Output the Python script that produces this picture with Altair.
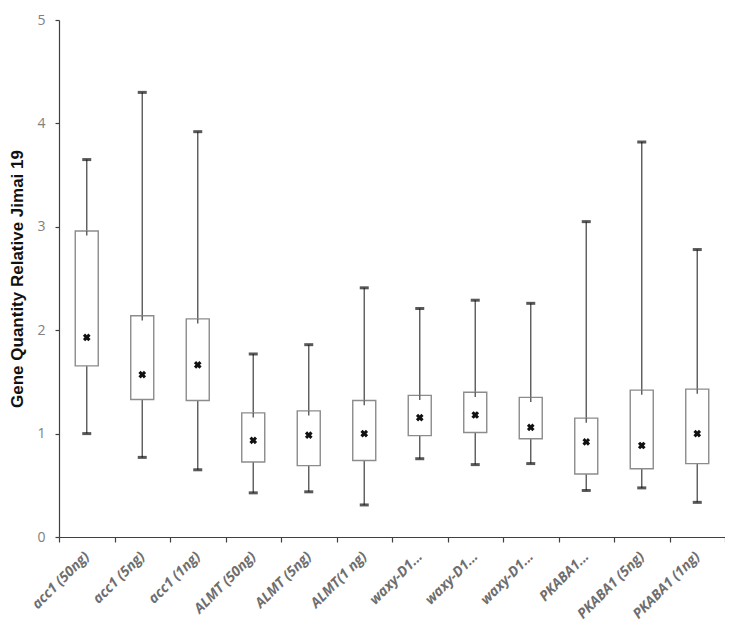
import json
import altair as alt
import pandas as pd

categories = ["acc1 (50ng)", "acc1 (5ng)", "acc1 (1ng)", "ALMT (50ng)", "ALMT (5ng)", "ALMT(1 ng)",
              "waxy-D1 (50ng)", "waxy-D1 (5ng)", "waxy-D1 (1ng)", "PKABA1 (50ng)", "PKABA1 (5ng)", "PKABA1 (1ng)"]
shown_labels = ["acc1 (50ng)", "acc1 (5ng)", "acc1 (1ng)", "ALMT (50ng)", "ALMT (5ng)", "ALMT(1 ng)",
                "waxy-D1...", "waxy-D1...", "waxy-D1...", "PKABA1...", "PKABA1 (5ng)", "PKABA1 (1ng)"]
whisker_high = [3.65, 4.30, 3.92, 1.77, 1.86, 2.41, 2.21, 2.29, 2.26, 3.05, 3.82, 2.78]
q3 = [2.96, 2.14, 2.11, 1.20, 1.22, 1.32, 1.37, 1.40, 1.35, 1.15, 1.42, 1.43]
q1 = [1.655, 1.33, 1.32, 0.725, 0.69, 0.74, 0.98, 1.01, 0.95, 0.61, 0.66, 0.71]
mean = [1.93, 1.57, 1.665, 0.935, 0.985, 1.0, 1.155, 1.18, 1.06, 0.92, 0.885, 1.0]
whisker_low = [1.0, 0.77, 0.65, 0.427, 0.437, 0.31, 0.757, 0.70, 0.71, 0.45, 0.475, 0.335]

df = pd.DataFrame({
    "cat": categories,
    "hi": whisker_high,
    "q3": q3,
    "q1": q1,
    "mean": mean,
    "lo": whisker_low,
})
df["q3in"] = df["q3"] - 0.045

label_map = json.dumps(dict(zip(categories, shown_labels)))

x = alt.X("cat:N", sort=categories, title=None,
          scale=alt.Scale(paddingInner=0, paddingOuter=0),
          axis=alt.Axis(labelExpr=f"{label_map}[datum.value]", labelAngle=-45,
                        labelAlign="right", labelBaseline="middle",
                        labelFont="Open Sans", labelFontSize=14, labelFontWeight="bold",
                        labelFontStyle="italic", labelColor="#6e6e6e", labelPadding=12,
                        tickBand="extent", tickSize=5, tickColor="#404040",
                        domainColor="#404040", domainWidth=1.2, tickWidth=1.2,
                        grid=False))
yscale = alt.Scale(domain=[0, 5], nice=False)
yaxis = alt.Axis(values=[0, 1, 2, 3, 4, 5], tickSize=4, labelPadding=10,
                 labelFont="Open Sans", labelFontSize=14, labelColor="#808080",
                 domainColor="#404040", domainWidth=1.2, tickColor="#404040", tickWidth=1.2,
                 grid=False, title="Gene Quantity Relative Jimai 19",
                 titleFont="Liberation Sans", titleFontSize=17, titleFontWeight="bold",
                 titleColor="#111111", titlePadding=10)

base = alt.Chart(df)

lower = base.mark_rule(color="#5a5a5a", strokeWidth=1.4).encode(
    x=x, y=alt.Y("lo:Q", scale=yscale, axis=yaxis), y2="q1:Q")
upper = base.mark_rule(color="#5a5a5a", strokeWidth=1.4).encode(
    x=x, y=alt.Y("hi:Q", scale=yscale, axis=yaxis), y2="q3:Q")
box = base.mark_bar(size=23, fill="white", stroke="#8c8c8c", strokeWidth=1.4).encode(
    x=x, y=alt.Y("q1:Q", scale=yscale, axis=yaxis), y2="q3:Q")
inner = base.mark_rule(color="#5a5a5a", strokeWidth=1.4).encode(
    x=x, y=alt.Y("q3:Q", scale=yscale, axis=yaxis), y2="q3in:Q")
cap_hi = base.mark_tick(color="#111111", thickness=3, size=9).encode(
    x=x, y=alt.Y("hi:Q", scale=yscale, axis=yaxis))
cap_lo = base.mark_tick(color="#111111", thickness=3, size=9).encode(
    x=x, y=alt.Y("lo:Q", scale=yscale, axis=yaxis))
mean_pt = base.mark_point(shape="cross", angle=45, filled=True, color="#111111", size=60, opacity=1).encode(
    x=x, y=alt.Y("mean:Q", scale=yscale, axis=yaxis))

chart = alt.layer(lower, upper, box, inner, cap_hi, cap_lo, mean_pt).properties(
    width=666, height=517,
    background="white",
    autosize=alt.AutoSizeParams(type="none"),
    padding={"left": 51, "top": 12, "right": 0, "bottom": 91},
).configure_view(stroke=None)

chart.save("out.html", embed_options={"renderer": "svg", "actions": False})
